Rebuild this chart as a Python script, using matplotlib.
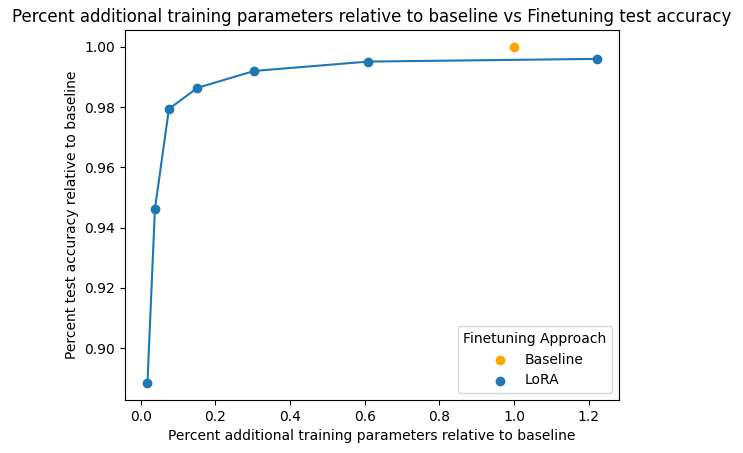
import matplotlib.pyplot as plt

lora_params = [0.018, 0.038, 0.0755, 0.152, 0.304, 0.609, 1.221]
lora_acc = [0.8884, 0.9462, 0.9794, 0.9864, 0.9920, 0.9951, 0.9960]
baseline_params = [1.0]
baseline_acc = [1.0]

fig = plt.figure(figsize=(7.43, 4.53), dpi=100)
ax = fig.add_axes([125 / 743, 53 / 453, 494 / 743, 370 / 453])

ax.plot(lora_params, lora_acc, color="#1f77b4")
ax.scatter(baseline_params, baseline_acc, color="orange", label="Baseline", zorder=3)
ax.scatter(lora_params, lora_acc, color="#1f77b4", label="LoRA", zorder=3)

ax.set_title("Percent additional training parameters relative to baseline vs Finetuning test accuracy")
ax.set_xlabel("Percent additional training parameters relative to baseline")
ax.set_ylabel("Percent test accuracy relative to baseline")
ax.legend(title="Finetuning Approach", loc="lower right")

fig.savefig("out.png", dpi=100)
